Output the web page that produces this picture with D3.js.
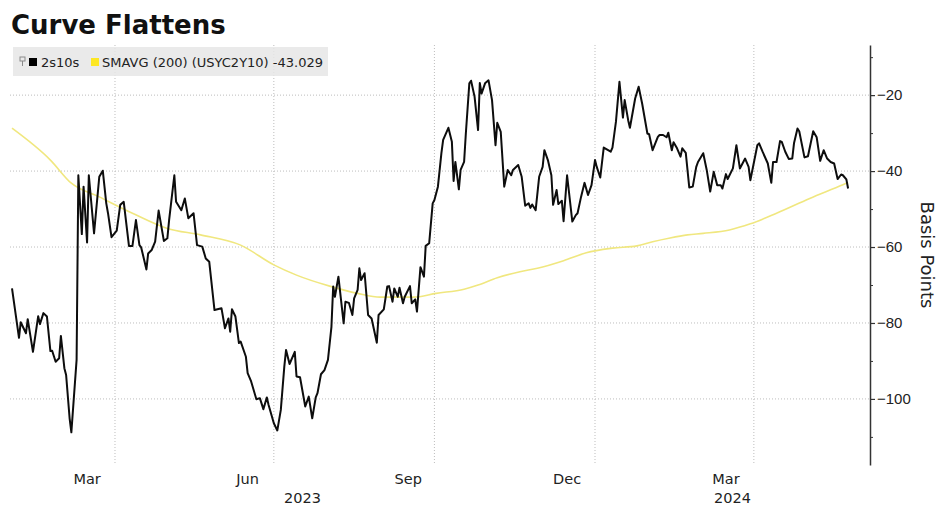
<!DOCTYPE html>
<html lang="en">
<head>
<meta charset="UTF-8">
<title>Curve Flattens</title>
<script src="https://d3js.org/d3.v7.min.js"></script>
<style>
  body { margin: 0; background: #fff; font-family: "DejaVu Sans", sans-serif; }
  .grid line { stroke: #bdbdbd; stroke-dasharray: 1,2; }
  .axis text { font-size: 15px; fill: #222; }
  .axis path, .axis line { stroke: #333; }
</style>
</head>
<body>
<svg id="chart" width="940" height="506"></svg>
<script>
// 2s10s spread (basis points)
const spreadDates = [
  "2023-02-01","2023-02-05","2023-02-06","2023-02-09","2023-02-10","2023-02-13","2023-02-16","2023-02-17","2023-02-19","2023-02-21",
  "2023-02-23","2023-02-24","2023-02-26","2023-02-28","2023-03-01","2023-03-03","2023-03-04","2023-03-06","2023-03-07","2023-03-10",
  "2023-03-11","2023-03-13","2023-03-14","2023-03-16","2023-03-17","2023-03-20","2023-03-23","2023-03-25","2023-03-27","2023-03-28",
  "2023-03-30","2023-04-02","2023-04-04","2023-04-06","2023-04-09","2023-04-11","2023-04-13","2023-04-15","2023-04-16","2023-04-19",
  "2023-04-20","2023-04-22","2023-04-24","2023-04-26","2023-04-29","2023-05-01","2023-05-02","2023-05-05","2023-05-06","2023-05-09",
  "2023-05-11","2023-05-13","2023-05-16","2023-05-18","2023-05-21","2023-05-23","2023-05-25","2023-05-28","2023-06-01","2023-06-03",
  "2023-06-05","2023-06-06","2023-06-07","2023-06-09","2023-06-11","2023-06-12","2023-06-15","2023-06-16","2023-06-18","2023-06-21",
  "2023-06-23","2023-06-25","2023-06-27","2023-06-28","2023-07-01","2023-07-03","2023-07-05","2023-07-07","2023-07-08","2023-07-10",
  "2023-07-13","2023-07-14","2023-07-16","2023-07-19","2023-07-21","2023-07-23","2023-07-25","2023-07-26","2023-07-28","2023-07-30",
  "2023-08-01","2023-08-03","2023-08-04","2023-08-05","2023-08-07","2023-08-10","2023-08-11","2023-08-13","2023-08-15","2023-08-16",
  "2023-08-18","2023-08-19","2023-08-20","2023-08-22","2023-08-24","2023-08-26","2023-08-29","2023-08-30","2023-09-02","2023-09-04",
  "2023-09-05","2023-09-07","2023-09-08","2023-09-10","2023-09-11","2023-09-13","2023-09-14","2023-09-17","2023-09-18","2023-09-20",
  "2023-09-21","2023-09-23","2023-09-25","2023-09-26","2023-09-28","2023-09-30","2023-10-01","2023-10-03","2023-10-05","2023-10-06",
  "2023-10-09","2023-10-11","2023-10-12","2023-10-13","2023-10-15","2023-10-16","2023-10-18","2023-10-19","2023-10-21","2023-10-22",
  "2023-10-24","2023-10-26","2023-10-27","2023-10-28","2023-10-30","2023-11-01","2023-11-03","2023-11-05","2023-11-06","2023-11-08",
  "2023-11-10","2023-11-12","2023-11-14","2023-11-15","2023-11-18","2023-11-20","2023-11-22","2023-11-24","2023-11-25","2023-11-26",
  "2023-11-28","2023-11-30","2023-12-02","2023-12-03","2023-12-05","2023-12-07","2023-12-08","2023-12-10","2023-12-11","2023-12-13",
  "2023-12-14","2023-12-16","2023-12-19","2023-12-21","2023-12-22","2023-12-24","2023-12-26","2023-12-28","2023-12-30","2024-01-01",
  "2024-01-02","2024-01-04","2024-01-06","2024-01-10","2024-01-11","2024-01-13","2024-01-15","2024-01-17","2024-01-18","2024-01-20",
  "2024-01-21","2024-01-24","2024-01-26","2024-01-28","2024-01-31","2024-02-01","2024-02-03","2024-02-06","2024-02-07","2024-02-09",
  "2024-02-11","2024-02-12","2024-02-14","2024-02-15","2024-02-17","2024-02-19","2024-02-20","2024-02-22","2024-02-24","2024-02-26",
  "2024-02-28","2024-02-29","2024-03-03","2024-03-05","2024-03-07","2024-03-09","2024-03-11","2024-03-13","2024-03-14","2024-03-16",
  "2024-03-17","2024-03-20","2024-03-22","2024-03-24","2024-03-27","2024-03-29","2024-03-30","2024-04-03","2024-04-04","2024-04-06",
  "2024-04-09","2024-04-11","2024-04-12","2024-04-14","2024-04-16","2024-04-17","2024-04-19","2024-04-21","2024-04-23","2024-04-24",
  "2024-04-26","2024-04-27","2024-04-30","2024-05-02","2024-05-05","2024-05-07","2024-05-09","2024-05-11","2024-05-13","2024-05-15",
  "2024-05-17","2024-05-19","2024-05-21","2024-05-22","2024-05-24","2024-05-25"
];
const spreadValues = [
  -70.9,-83.9,-79.8,-82.7,-79.0,-87.6,-78.2,-80.3,-77.4,-78.3,
  -87.4,-87.3,-90.2,-89.3,-83.4,-91.9,-93.7,-105.1,-108.8,-89.7,
  -41.1,-56.6,-44.1,-58.8,-41.1,-56.4,-41.5,-39.9,-48.5,-51.1,
  -57.4,-55.7,-48.9,-48.1,-59.7,-59.7,-52.9,-59.5,-60.1,-65.9,
  -61.7,-60.8,-58.6,-50.4,-58.4,-57.7,-52.9,-41.1,-48.1,-50.3,
  -47.2,-52.4,-51.1,-59.5,-59.9,-63.0,-63.9,-76.6,-76.1,-81.4,
  -78.8,-82.3,-76.4,-78.3,-85.3,-84.9,-88.9,-93.2,-95.4,-100.1,
  -99.8,-102.7,-99.6,-101.6,-106.4,-108.3,-102.9,-91.5,-87.1,-90.8,
  -87.6,-94.1,-94.3,-102.0,-99.4,-105.1,-99.6,-98.5,-93.5,-92.4,
  -89.7,-81.0,-70.4,-73.1,-67.8,-80.1,-74.4,-74.7,-77.9,-73.5,
  -71.3,-65.6,-68.7,-66.9,-77.9,-78.8,-85.2,-77.9,-76.4,-70.4,
  -70.3,-74.4,-70.9,-73.1,-70.7,-74.8,-73.1,-70.3,-74.8,-73.8,
  -77.0,-65.3,-67.8,-59.7,-59.0,-48.5,-47.6,-44.1,-35.3,-31.8,
  -28.6,-32.3,-42.6,-37.6,-44.8,-39.7,-37.6,-30.1,-16.9,-16.2,
  -20.4,-29.2,-16.8,-19.6,-16.9,-16.1,-21.3,-33.2,-27.3,-29.7,
  -44.1,-39.7,-41.1,-39.7,-38.4,-41.5,-49.1,-48.5,-49.7,-48.8,
  -50.3,-41.5,-38.9,-34.5,-37.1,-41.1,-48.9,-45.0,-48.7,-47.8,
  -53.2,-41.1,-53.3,-51.6,-51.1,-46.8,-43.1,-46.3,-43.7,-37.1,
  -38.9,-41.7,-33.8,-34.9,-33.8,-27.0,-16.5,-25.9,-21.3,-26.6,
  -28.6,-20.9,-17.8,-22.2,-30.1,-30.3,-34.5,-31.0,-30.5,-30.5,
  -31.1,-29.9,-34.5,-32.4,-34.0,-36.2,-34.0,-35.2,-44.3,-44.1,
  -38.9,-37.6,-35.3,-39.7,-45.4,-40.2,-43.7,-43.7,-44.6,-40.8,
  -42.1,-39.3,-33.2,-39.3,-36.7,-38.9,-42.4,-33.2,-32.7,-34.9,
  -38.0,-43.1,-37.6,-37.6,-32.1,-32.3,-34.9,-36.8,-36.7,-32.7,
  -28.8,-29.5,-36.4,-36.1,-29.5,-31.1,-37.3,-34.5,-36.7,-37.6,
  -38.0,-42.1,-40.9,-41.1,-42.2,-44.6
];

// 200-day simple moving average
const smaDates = [
  "2023-02-01","2023-02-23","2023-03-07","2023-03-23","2023-04-11","2023-05-01","2023-05-20","2023-06-12","2023-07-01","2023-07-14",
  "2023-08-02","2023-08-18","2023-08-31","2023-09-19","2023-10-02","2023-10-18","2023-10-26","2023-11-06","2023-11-19","2023-11-29",
  "2023-12-14","2023-12-27","2024-01-11","2024-01-25","2024-02-03","2024-02-13","2024-02-23","2024-03-03","2024-03-18","2024-03-30",
  "2024-04-14","2024-05-03","2024-05-22","2024-05-25"
];
const smaValues = [
  -28.7,-37.1,-43.2,-46.8,-51.1,-55.1,-56.8,-59.5,-64.7,-67.4,
  -70.3,-72.2,-73.2,-73.2,-72.2,-71.1,-70.0,-68.1,-66.5,-65.6,
  -63.6,-61.5,-60.3,-59.7,-58.6,-57.6,-56.8,-56.4,-55.5,-53.9,
  -51.1,-47.2,-43.6,-43.0
];

const yTicksMajor = [-20, -40, -60, -80, -100];
const yTicksMinor = [-10, -30, -50, -70, -90, -110];
const monthLabels = ["Mar", "Jun", "Sep", "Dec", "Mar"];
const monthOf = ["2023-03", "2023-06", "2023-09", "2023-12", "2024-03"];
const yearLabels = ["2023", "2024"];
const legendLabels = ["2s10s", "SMAVG (200) (USYC2Y10) -43.029"];

const parse = d3.utcParse("%Y-%m-%d");
const parseMonth = d3.utcParse("%Y-%m");

const plotLeft = 10, plotRight = 870, plotTop = 45, plotBottom = 465;

const x = d3.scaleUtc()
  .domain([parse("2023-01-01"), parse("2024-05-15")])
  .range([-42.1, 830.65]);

const y = d3.scaleLinear()
  .domain([-6.8, -117.4])
  .range([plotTop, plotBottom]);

const svg = d3.select("#chart");

// title
svg.append("text")
  .attr("x", 11).attr("y", 34)
  .attr("font-size", 26).attr("font-weight", "bold").attr("fill", "#111")
  .text("Curve Flattens");

// gridlines
const grid = svg.append("g").attr("class", "grid");
grid.selectAll(".hg").data(yTicksMajor).enter().append("line")
  .attr("x1", plotLeft).attr("x2", plotRight)
  .attr("y1", d => y(d)).attr("y2", d => y(d));

// month boundaries (first day of the month after each labelled month)
const boundaries = monthOf.map(m => d3.utcMonth.offset(parseMonth(m), 1));
grid.selectAll(".vg").data(boundaries).enter().append("line")
  .attr("x1", d => x(d)).attr("x2", d => x(d))
  .attr("y1", plotTop).attr("y2", plotBottom);

// legend
const legend = svg.append("g");
legend.append("rect")
  .attr("x", 13).attr("y", 47).attr("width", 315).attr("height", 29)
  .attr("fill", "#e6e6e6").attr("opacity", 0.85);
legend.append("rect").attr("x", 20).attr("y", 57).attr("width", 5).attr("height", 4)
  .attr("fill", "none").attr("stroke", "#8a8a8a").attr("stroke-width", 1);
legend.append("line").attr("x1", 22.5).attr("x2", 22.5).attr("y1", 61).attr("y2", 66)
  .attr("stroke", "#8a8a8a").attr("stroke-width", 1);
legend.append("rect").attr("x", 29).attr("y", 58).attr("width", 8).attr("height", 8).attr("fill", "#000");
legend.append("text").attr("x", 41).attr("y", 67).attr("font-size", 13).attr("fill", "#222").text(legendLabels[0]);
legend.append("rect").attr("x", 91).attr("y", 58).attr("width", 8).attr("height", 8).attr("fill", "#fde724");
legend.append("text").attr("x", 102).attr("y", 67).attr("font-size", 13).attr("fill", "#222").text(legendLabels[1]);

// lines
const spread = spreadDates.map((d, i) => ({ date: parse(d), value: spreadValues[i] }));
const sma = smaDates.map((d, i) => ({ date: parse(d), value: smaValues[i] }));

svg.append("path")
  .datum(sma)
  .attr("fill", "none")
  .attr("stroke", "#f0e77f")
  .attr("stroke-width", 1.6)
  .attr("d", d3.line().curve(d3.curveMonotoneX).x(d => x(d.date)).y(d => y(d.value)));

svg.append("path")
  .datum(spread)
  .attr("fill", "none")
  .attr("stroke", "#0d0d0d")
  .attr("stroke-width", 2)
  .attr("stroke-linejoin", "round")
  .attr("d", d3.line().x(d => x(d.date)).y(d => y(d.value)));

// right axis
const axisG = svg.append("g").attr("class", "axis")
  .attr("transform", `translate(${plotRight},0)`);
axisG.call(d3.axisRight(y).tickValues(yTicksMajor).tickSize(5).tickSizeOuter(0).tickPadding(2));
axisG.select(".domain").attr("stroke-width", 1.5);
axisG.selectAll(".tick line").attr("stroke-width", 1.2);
const minorG = svg.append("g").attr("class", "axis")
  .attr("transform", `translate(${plotRight},0)`);
minorG.call(d3.axisRight(y).tickValues(yTicksMinor).tickSize(3).tickSizeOuter(0).tickFormat(""));
minorG.select(".domain").remove();

svg.append("text")
  .attr("transform", "translate(921,255) rotate(90)")
  .attr("text-anchor", "middle")
  .attr("font-size", 18).attr("fill", "#222")
  .text("Basis Points");

// x labels, centred on the middle of each month
svg.selectAll(".mlab").data(monthOf).enter().append("text")
  .attr("x", d => x(d3.utcDay.offset(parseMonth(d), 15)))
  .attr("y", 484)
  .attr("text-anchor", "middle")
  .attr("font-size", 14.5).attr("fill", "#222")
  .text((d, i) => monthLabels[i]);

const yearStart = parse("2024-01-01");
const yearPos = [(plotLeft + x(yearStart)) / 2, (x(yearStart) + plotRight) / 2];
svg.selectAll(".ylab").data(yearLabels).enter().append("text")
  .attr("x", (d, i) => yearPos[i])
  .attr("y", 503)
  .attr("text-anchor", "middle")
  .attr("font-size", 14.5).attr("fill", "#222")
  .text(d => d);
</script>
</body>
</html>
